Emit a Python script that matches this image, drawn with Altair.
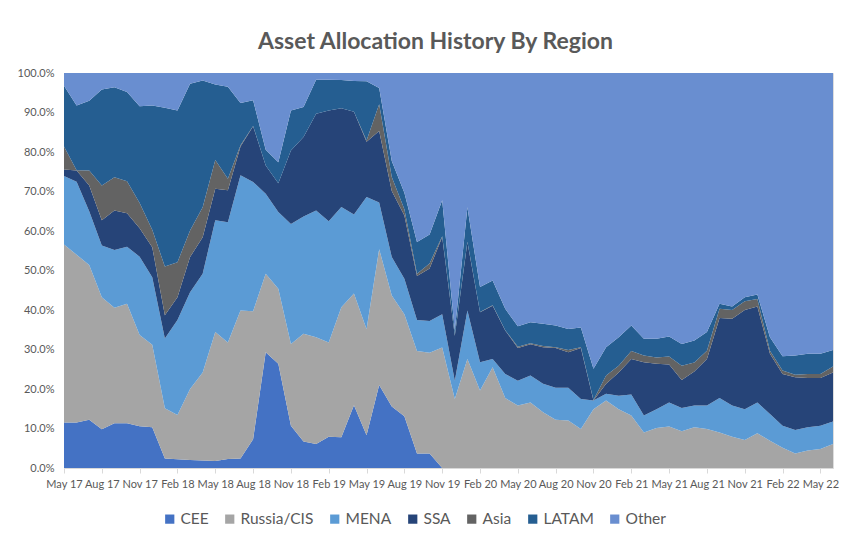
import altair as alt
import pandas as pd

# Months May 2017 .. Jun 2022 (62 monthly observations)
MONTHS = [d.strftime("%b %y") for d in pd.date_range("2017-05-01", periods=62, freq="MS")]
TICK_LABELS = MONTHS[::3]

SERIES = ["CEE", "Russia/CIS", "MENA", "SSA", "Asia", "LATAM", "Other"]
COLORS = ["#4472C4", "#A5A5A5", "#5B9BD5", "#264478", "#636363", "#255E91", "#698ED0"]

CEE = [11.5, 11.5, 12.2, 9.8, 11.3, 11.3, 10.6, 10.3, 2.4, 2.2, 2.0, 1.9, 1.8, 2.3, 2.4, 7.3,
       29.3, 26.4, 10.7, 6.7, 6.1, 7.9, 7.8, 15.9, 8.3, 21.0, 15.6, 13.1, 3.7, 3.7] + [0.0] * 32
RUSSIA = [45.1, 42.5, 39.2, 33.4, 29.3, 30.3, 23.1, 20.9, 12.7, 11.2, 18.0, 22.3, 32.6, 29.5, 37.5, 32.4,
          19.9, 19.0, 20.7, 27.3, 27.0, 23.9, 32.9, 28.3, 26.8, 34.4, 28.1, 25.8, 25.9, 25.5,
          30.5, 17.5, 27.6, 19.6, 25.5, 17.7, 15.8, 16.6, 14.1, 12.2, 12.0, 9.9, 14.9, 17.1, 14.9, 13.3,
          9.0, 10.1, 10.5, 9.3, 10.3, 9.9, 9.0, 7.9, 7.1, 8.8, 6.9, 5.1, 3.7, 4.4, 4.8, 6.1]
MENA = [17.3, 18.5, 13.6, 13.1, 14.6, 14.4, 19.8, 17.1, 17.7, 24.1, 24.5, 25.0, 28.3, 30.4, 34.2, 32.7,
        20.2, 19.4, 30.4, 29.7, 32.1, 30.7, 25.4, 20.0, 33.5, 11.8, 9.7, 9.0, 7.9, 8.0,
        8.4, 4.6, 12.3, 7.2, 2.1, 6.1, 6.3, 6.8, 7.2, 8.1, 8.3, 7.6, 2.2, 1.7, 3.4, 5.3,
        4.3, 4.8, 6.1, 5.9, 5.5, 5.9, 8.7, 7.9, 7.8, 7.8, 6.8, 5.6, 5.9, 5.9, 5.9, 5.7]
SSA = [1.7, 2.8, 6.5, 6.4, 10.0, 8.5, 7.2, 7.6, 5.9, 5.7, 8.9, 9.2, 8.0, 8.1, 7.3, 14.1,
       7.2, 7.3, 18.6, 20.1, 24.5, 28.0, 25.0, 26.0, 14.0, 18.1, 16.7, 16.0, 11.1, 13.3,
       19.6, 11.4, 17.3, 12.6, 13.5, 11.0, 8.3, 7.9, 9.3, 10.1, 9.0, 12.9, 0.0, 2.5, 5.9, 9.0,
       13.5, 11.5, 9.6, 7.1, 8.6, 11.8, 20.3, 22.0, 25.1, 24.3, 15.2, 13.1, 13.4, 12.5, 12.1, 12.4]
ASIA = [5.8, 0.1, 3.8, 8.8, 8.4, 8.1, 6.4, 4.4, 12.3, 8.9, 6.7, 7.6, 7.3, 2.9, 0.3, 0.1,
        0.0, 0.0, 0.0, 0.0, 0.0, 0.0, 0.0, 0.0, 0.3, 6.8, 3.6, 1.6, 0.6, 1.3,
        0.2, 0.1, 0.1, 0.1, 0.1, 0.1, 0.3, 0.3, 0.3, 0.2, 0.6, 0.2, 0.1, 2.1, 1.7, 2.0,
        1.7, 1.6, 2.0, 3.6, 2.3, 2.1, 2.3, 2.2, 2.2, 1.9, 0.8, 0.9, 0.6, 1.0, 1.0, 1.5]
LATAM = [15.4, 16.4, 17.7, 24.3, 22.8, 22.6, 24.5, 31.5, 40.2, 38.4, 37.2, 32.1, 19.1, 23.3, 10.7, 6.5,
         4.0, 5.3, 10.1, 7.6, 8.6, 7.8, 7.1, 7.8, 15.0, 4.1, 4.0, 4.2, 8.0, 7.3,
         9.1, 1.2, 8.7, 6.3, 6.3, 5.4, 5.2, 5.3, 5.6, 5.5, 5.3, 5.0, 7.9, 7.2, 7.2, 6.5,
         4.2, 4.7, 5.1, 5.5, 5.6, 4.7, 1.3, 0.9, 1.0, 1.1, 3.4, 3.6, 4.9, 5.1, 5.1, 4.2]
OTHER = [3.2, 8.2, 7.0, 4.2, 3.6, 4.8, 8.4, 8.2, 8.8, 9.5, 2.7, 1.9, 2.9, 3.5, 7.6, 6.9,
         19.4, 22.6, 9.5, 8.6, 1.7, 1.7, 1.8, 2.0, 2.1, 3.8, 22.3, 30.3, 42.8, 40.9,
         32.2, 65.2, 34.0, 54.2, 52.5, 59.7, 64.1, 63.1, 63.5, 63.9, 64.8, 64.4, 74.9, 69.4, 66.9, 63.9,
         67.3, 67.3, 66.7, 68.6, 67.7, 65.6, 58.4, 59.1, 56.8, 56.1, 66.9, 71.7, 71.5, 71.1, 71.1, 70.1]

VALUES = [CEE, RUSSIA, MENA, SSA, ASIA, LATAM, OTHER]

rows = []
for k, (name, vals) in enumerate(zip(SERIES, VALUES)):
    for m, v in zip(MONTHS, vals):
        rows.append({"month": m, "series": name, "share": v, "order": k})
df = pd.DataFrame(rows)

FONT = "Lato"
TXT = "#595959"

chart = alt.Chart(df).mark_area(clip=True).encode(
    x=alt.X("month:O", sort=MONTHS,
            scale=alt.Scale(type="point", padding=0),
            axis=alt.Axis(values=TICK_LABELS, labelAngle=0, title=None,
                          labelFont=FONT, labelFontSize=11, labelColor=TXT,
                          labelOverlap=False, labelPadding=5,
                          domainColor="#D9D9D9", tickColor="#D9D9D9", tickSize=5,
                          grid=False)),
    y=alt.Y("share:Q", stack="normalize",
            scale=alt.Scale(domain=[0, 1], nice=False),
            axis=alt.Axis(values=[i / 10 for i in range(11)],
                          labelExpr="format(datum.value, '.1%')", title=None,
                          labelFont=FONT, labelFontSize=11, labelColor=TXT,
                          domain=False, ticks=False, tickSize=0, labelPadding=10, grid=False)),
    color=alt.Color("series:N", sort=SERIES,
                    scale=alt.Scale(domain=SERIES, range=COLORS),
                    legend=alt.Legend(title=None, orient="none", legendX=98, legendY=438,
                                      direction="horizontal", symbolType="square",
                                      symbolSize=85, symbolStrokeWidth=0,
                                      labelFont=FONT, labelFontSize=15.5, labelColor=TXT,
                                      labelOffset=3, columnPadding=13, padding=0)),
    order=alt.Order("order:Q", sort="ascending"),
).properties(
    width=769, height=395,
    padding={"left": 56, "top": 65, "right": 17, "bottom": 60},
    autosize=alt.AutoSizeParams(type="none"),
    title=alt.Title("Asset Allocation History By Region", font=FONT, fontSize=23,
                    fontWeight="bold", color=TXT, anchor="middle", dx=-13, offset=13),
).configure_view(stroke=None).configure(background="white")

chart.save("out.html", embed_options={"renderer": "svg", "actions": False})
